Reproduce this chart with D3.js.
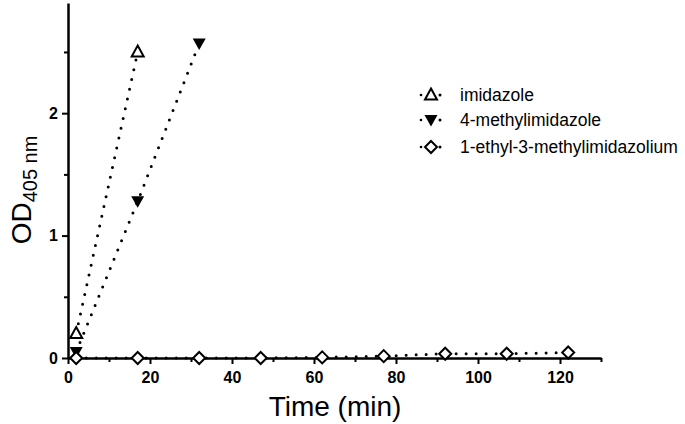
<!DOCTYPE html>
<html><head><meta charset="utf-8">
<script src="https://cdn.jsdelivr.net/npm/d3@7"></script>
<style>body{margin:0;background:#fff}svg{display:block}text{font-family:"Liberation Sans",Arial,sans-serif}</style>
</head><body><svg id="c" width="685" height="424"></svg>
<script>
const seriesNames = ["imidazole","4-methylimidazole","1-ethyl-3-methylimidazolium"];
const imidazoleT = [2,17];
const imidazoleOD = [0.2,2.5];
const methylT = [2,17,32];
const methylOD = [0.05,1.28,2.57];
const emimT = [2,17,32,47,62,77,92,107,122];
const emimOD = [0,0,0,0,0.005,0.015,0.035,0.035,0.045];
const xTicks = [0,20,40,60,80,100,120];
const yTicks = [0,1,2];

const svg = d3.select("#c");
const x = d3.scaleLinear().domain([0,130]).range([68,601]);
const y = d3.scaleLinear().domain([0,2.9]).range([358,3]);

const series = [
  {name:seriesNames[0], t:imidazoleT, v:imidazoleOD, sym:"tri"},
  {name:seriesNames[1], t:methylT, v:methylOD, sym:"tridown"},
  {name:seriesNames[2], t:emimT, v:emimOD, sym:"diamond"}
];

function marker(g, sym, cx, cy){
  if(sym==="tri"){
    g.append("path").attr("d",`M${cx},${cy-6.5} L${cx+6},${cy+4.5} L${cx-6},${cy+4.5} Z`)
     .attr("fill","#fff").attr("stroke","#000").attr("stroke-width",2);
  } else if(sym==="tridown"){
    g.append("path").attr("d",`M${cx-6.5},${cy-5} L${cx+6.5},${cy-5} L${cx},${cy+6.5} Z`)
     .attr("fill","#000");
  } else {
    g.append("path").attr("d",`M${cx},${cy-6} L${cx+6},${cy} L${cx},${cy+6} L${cx-6},${cy} Z`)
     .attr("fill","#fff").attr("stroke","#000").attr("stroke-width",2);
  }
}

// lines
const line = d3.line().x(d=>x(d[0])).y(d=>y(d[1]));
series.forEach(s=>{
  const pts = s.t.map((t,i)=>[t,s.v[i]]);
  svg.append("path").attr("d",line(pts)).attr("fill","none").attr("stroke","#000")
    .attr("stroke-width",3).attr("stroke-linecap","round").attr("stroke-dasharray","0,10");
});

// axes
const xAxis = svg.append("g").attr("transform","translate(0,358)")
  .call(d3.axisBottom(x).tickValues(xTicks).tickSize(6).tickPadding(8).tickFormat(d3.format("d")).tickSizeOuter(0));
const xMinor = svg.append("g").attr("transform","translate(0,358)")
  .call(d3.axisBottom(x).tickValues(d3.range(10,131,20)).tickSize(4).tickFormat("").tickSizeOuter(0));
xMinor.select(".domain").remove();
const yAxis = svg.append("g").attr("transform","translate(68,0)")
  .call(d3.axisLeft(y).tickValues(yTicks).tickSize(6).tickPadding(4).tickFormat(d3.format("d")).tickSizeOuter(0));
const yMinor = svg.append("g").attr("transform","translate(68,0)")
  .call(d3.axisLeft(y).tickValues([0.5,1.5,2.5]).tickSize(4).tickFormat("").tickSizeOuter(0));
yMinor.select(".domain").remove();
svg.selectAll(".domain").attr("stroke","#000").attr("stroke-width",2.5);
svg.selectAll(".tick line").attr("stroke","#000").attr("stroke-width",2);
svg.selectAll(".tick text").attr("font-size",16).attr("font-weight","bold").attr("fill","#000")
  .attr("font-family","'Liberation Sans',Arial,sans-serif");

// markers
series.forEach(s=>{
  const g = svg.append("g");
  s.t.forEach((t,i)=>marker(g,s.sym,x(t),y(s.v[i])));
});

// legend
const legY = [95,120,147];
series.forEach((s,i)=>{
  const g = svg.append("g");
  g.append("circle").attr("cx",421).attr("cy",legY[i]).attr("r",1.3).attr("fill","#000");
  g.append("circle").attr("cx",440).attr("cy",legY[i]).attr("r",1.5).attr("fill","#000");
  marker(g,s.sym,431,legY[i]);
  g.append("text").attr("x",460).attr("y",legY[i]+6).attr("font-size",17.5).text(s.name);
});

// titles
svg.append("text").attr("x",335).attr("y",416).attr("text-anchor","middle").attr("font-size",28).text("Time (min)");
const yt = svg.append("text").attr("transform","translate(31,190) rotate(-90)").attr("text-anchor","middle").attr("font-size",28);
yt.append("tspan").text("OD");
yt.append("tspan").attr("font-size",20).attr("dy",6).text("405 nm");
</script></body></html>
